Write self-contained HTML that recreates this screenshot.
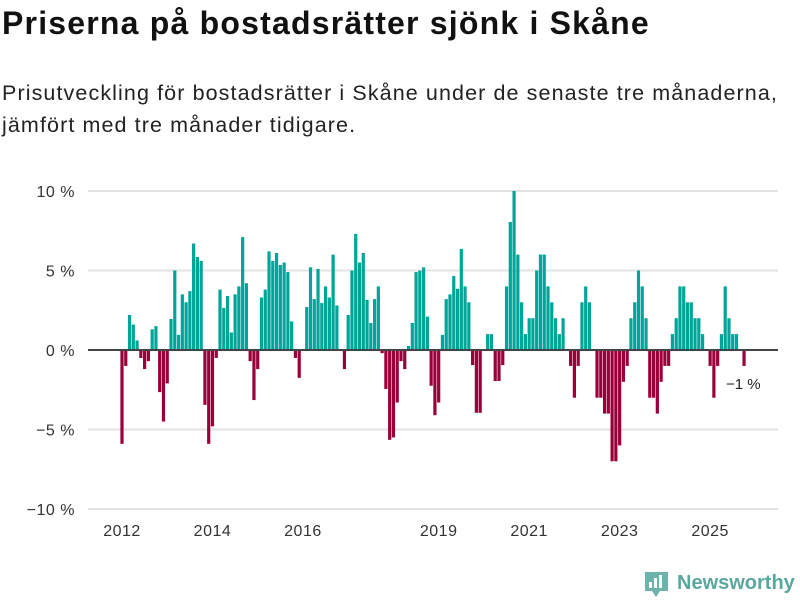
<!DOCTYPE html>
<html><head><meta charset="utf-8"><style>
body{margin:0;background:#fff;width:800px;height:600px;overflow:hidden;font-family:"Liberation Sans",sans-serif;}
#title{position:absolute;left:2px;top:5px;font-size:32px;letter-spacing:1.2px;font-weight:bold;color:#111;margin:0;white-space:nowrap;}
#sub{position:absolute;left:2px;top:77px;font-size:21.5px;letter-spacing:1.1px;line-height:32px;color:#222;margin:0;white-space:nowrap;}
svg{position:absolute;left:0;top:0;}
</style></head><body>
<h1 id="title">Priserna på bostadsrätter sjönk i Skåne</h1>
<p id="sub">Prisutveckling för bostadsrätter i Skåne under de senaste tre månaderna,<br>jämfört med tre månader tidigare.</p>
<svg id="chart" width="800" height="600"></svg>
<script>
const values=[-5.9,-1.0,2.2,1.6,0.6,-0.5,-1.2,-0.7,1.3,1.5,-2.65,-4.5,
-2.1,1.95,5.0,0.95,3.5,3.0,3.7,6.7,5.85,5.6,-3.45,-5.9,
-4.8,-0.5,3.8,2.65,3.4,1.1,3.5,4.0,7.1,4.2,-0.7,-3.15,
-1.2,3.3,3.8,6.2,5.6,6.1,5.35,5.5,4.9,1.8,-0.5,-1.75,
0,2.7,5.2,3.2,5.1,2.95,4.0,3.3,6.0,2.8,0,-1.2,
2.2,5.0,7.3,5.5,6.1,3.15,1.7,3.2,4.0,-0.2,-2.45,-5.65,
-5.5,-3.3,-0.7,-1.2,0.25,1.7,4.9,5.0,5.2,2.1,-2.25,-4.1,
-3.3,0.95,3.2,3.5,4.65,3.85,6.35,4.0,3.0,-0.95,-3.95,-3.95,
0,1.0,1.0,-1.95,-1.95,-0.95,4.0,8.05,10.0,6.0,3.0,1.0,
2.0,2.0,5.0,6.0,6.0,4.0,3.0,2.0,1.0,2.0,0,-1.0,
-3.0,-1.0,3.0,4.0,3.0,0,-3.0,-3.0,-4.0,-4.0,-7.0,-7.0,
-6.0,-2.0,-1.0,2.0,3.0,5.0,4.0,2.0,-3.0,-3.0,-4.0,-2.0,
-1.0,-1.0,1.0,2.0,4.0,4.0,3.0,3.0,2.0,2.0,1.0,0,
-1.0,-3.0,-1.0,1.0,4.0,2.0,1.0,1.0,0,-1.0];
const yTicks=[10,5,0,-5,-10];
const yTickLabels=["10 %","5 %","0 %","−5 %","−10 %"];
const xYears=[2012,2014,2016,2019,2021,2023,2025];
const lastLabel="−1 %";
const NS="http://www.w3.org/2000/svg";
const svg=document.getElementById('chart');
const x=i=>122+i*3.77;
const y=v=>350-v*15.9;
const yearX=yr=>x((yr-2012)*12);
function mk(t,a){const e=document.createElementNS(NS,t);for(const k in a)e.setAttribute(k,a[k]);svg.appendChild(e);return e;}
yTicks.forEach((t,i)=>{
  if(t!==0){const g=mk('line',{x1:88,x2:778,y1:y(t),y2:y(t),stroke:'#e3e3e3','stroke-width':2});
  
  }
  const l=mk('text',{x:75,y:y(t)+6,'text-anchor':'end','font-size':16,'letter-spacing':0.5,fill:'#333','font-family':'Liberation Sans, sans-serif'});
  l.textContent=yTickLabels[i];
  
  
});
values.forEach((v,i)=>{
  if(v===0)return;
  const r=mk('rect',{x:x(i)-1.6,width:3.2,y:Math.min(y(v),y(0)),height:Math.abs(y(v)-y(0)),fill:v>0?'#00a59a':'#99003a'});
  
  
});
const z=mk('line',{x1:88,x2:778,y1:y(0),y2:y(0),stroke:'#444','stroke-width':2});


xYears.forEach(yr=>{
  const t=mk('text',{x:yearX(yr),y:536,'text-anchor':'middle','font-size':16,'letter-spacing':0.5,fill:'#333','font-family':'Liberation Sans, sans-serif'});
  t.textContent=yr;
  
  
});
const ll=mk('text',{x:726,y:389,'font-size':15,fill:'#222','font-family':'Liberation Sans, sans-serif'});
ll.textContent=lastLabel;


</script>
<svg width="800" height="600" style="pointer-events:none">
<path d="M645 572 h23 v19 h-8 l-4 6 l-4 -6 h-7 z" fill="#6bb3ac"/>
<rect x="649" y="582" width="3" height="6" fill="#fff"/><rect x="654" y="578" width="3" height="10" fill="#fff"/><rect x="659" y="575" width="3" height="13" fill="#fff"/>
<text x="677" y="589" font-size="20" font-weight="bold" fill="#5aa7a0" font-family="Liberation Sans, sans-serif">Newsworthy</text>
</svg>
</body></html>
